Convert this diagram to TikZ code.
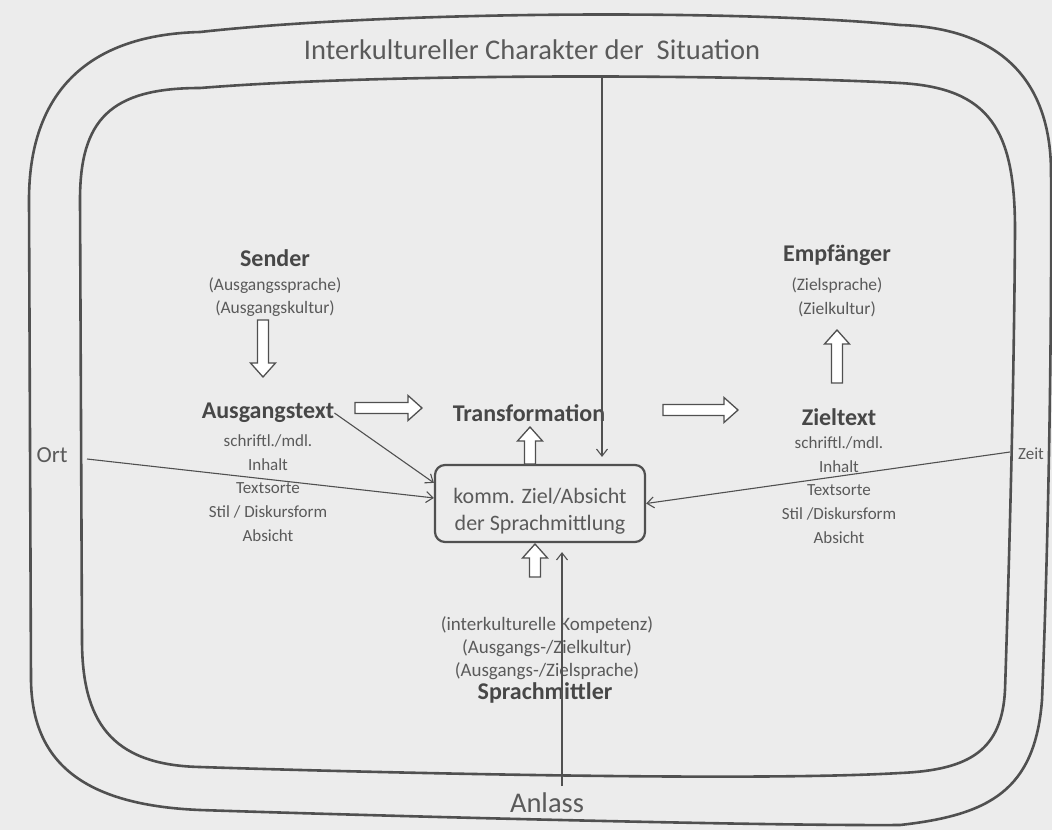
\documentclass[tikz,border=0pt]{standalone}
\usepackage{fontspec}
\setmainfont{Carlito}
\usetikzlibrary{calc,arrows.meta}
\definecolor{bgc}{HTML}{ECECEC}
\definecolor{linec}{HTML}{505050}
\definecolor{headc}{HTML}{474747}
\definecolor{txtc}{HTML}{5A5A5A}
\begin{document}
\begin{tikzpicture}[x=1pt,y=-1pt,
  head/.style={font=\fontsize{24}{28}\selectfont\bfseries, text=headc, inner sep=0pt},
  sub/.style={font=\fontsize{17.5}{23.5}\selectfont, text=txtc, align=center, inner sep=0pt},
  listst/.style={font=\fontsize{17}{23.8}\selectfont, text=txtc, align=center, inner sep=0pt},
  subtwo/.style={font=\fontsize{19}{23}\selectfont, text=txtc, align=center, inner sep=0pt},
  big/.style={font=\fontsize{28.5}{32}\selectfont, text=txtc, inner sep=0pt},
  sidelab/.style={text=txtc, inner sep=0pt},
  boxst/.style={draw=linec, line width=2.2pt, rounded corners=10pt, minimum width=210pt,
    minimum height=77pt, align=center, font=\fontsize{22}{27}\selectfont, text=txtc, inner sep=0pt},
  contour/.style={draw=linec, line width=2.6pt},
  thinarr/.style={draw=linec, line width=1.1pt, -{Straight Barb[length=7pt,width=11pt]}},
  fat/.style={draw=linec, line width=1.3pt, fill=white, to path={
    let \p1=(\tikztostart), \p2=(\tikztotarget), \p3=($(\p2)!14pt!(\p1)$) in
    ($(\p1)!5.5pt!90:(\p2)$) -- ($(\p3)!5.5pt!-90:(\p1)$) -- ($(\p3)!12.5pt!-90:(\p1)$)
    -- (\p2) -- ($(\p3)!12.5pt!90:(\p1)$) -- ($(\p3)!5.5pt!90:(\p1)$)
    -- ($(\p1)!5.5pt!-90:(\p2)$) -- cycle}}
]
\useasboundingbox (0,0) rectangle (1052,830);
\fill[bgc] (0,0) rectangle (1052,830);

% outer contour
\path[contour] (31,680) -- (29,200)
  .. controls (29,100) and (80,35) .. (200,32)
  .. controls (400,10) and (750,10) .. (900,25)
  .. controls (1000,28) and (1050,80) .. (1051,170)
  .. controls (1052,350) and (1048,550) .. (1042,700)
  .. controls (1035,790) and (990,815) .. (900,825)
  .. controls (750,826) and (350,815) .. (200,810)
  .. controls (80,805) and (32,760) .. (31,680) -- cycle;
% inner contour
\path[contour] (82,640) -- (80,200)
  .. controls (80,120) and (110,88) .. (200,88)
  .. controls (400,72) and (750,75) .. (900,83)
  .. controls (990,88) and (1015,130) .. (1015,230)
  .. controls (1014,400) and (1008,600) .. (1005,690)
  .. controls (1002,750) and (970,770) .. (900,773)
  .. controls (750,782) and (350,772) .. (200,767)
  .. controls (110,765) and (82,720) .. (82,640) -- cycle;

% texts
\node[big] (title) at (532,50) {Interkultureller Charakter der~~Situation};
\node[head] (sender) at (275,258) {Sender};
\node[sub] (sendersub) at (275,297) {(Ausgangssprache)\\(Ausgangskultur)};
\node[head] (ausg) at (268,413) {Ausgangstext};
\node[listst] (ausglist) at (268,488) {schriftl./mdl.\\Inhalt\\Textsorte\\Stil / Diskursform\\Absicht};
\node[head] (trans) at (529,413) {Transformation};
\node[boxst] (box) at (540,503.5) {\rule{0pt}{31pt}komm. Ziel/Absicht\\der Sprachmittlung};
\node[head] (empf) at (837,255) {Empfänger};
\node[sub] (empfsub) at (837,297.5) {(Zielsprache)\\(Zielkultur)};
\node[head] (ziel) at (839,417) {Zieltext};
\node[listst] (ziellist) at (839,490) {schriftl./mdl.\\Inhalt\\Textsorte\\Stil /Diskursform\\Absicht};
\node[subtwo] (sprsub) at (547,648) {(interkulturelle Kompetenz)\\(Ausgangs-/Zielkultur)\\(Ausgangs-/Zielsprache)};
\node[head] (spr) at (545,693) {Sprachmittler};
\node[big] (anlass) at (547,803) {Anlass};
\node[sidelab, font=\fontsize{23}{26}\selectfont] (ort) at (52,455) {Ort};
\node[sidelab, font=\fontsize{17}{20}\selectfont] (zeit) at (1031,454) {Zeit};

% fat arrows
\coordinate (f1s) at (263,320); \coordinate (f1t) at (263,377);
\coordinate (f2s) at (355,408); \coordinate (f2t) at (422,408);
\coordinate (f3s) at (530,464); \coordinate (f3t) at (530,427);
\coordinate (f4s) at (663,410); \coordinate (f4t) at (738,410);
\coordinate (f5s) at (837,383); \coordinate (f5t) at (837,330);
\coordinate (f6s) at (535,577); \coordinate (f6t) at (535,544);
\path[fat] (f1s) to (f1t);
\path[fat] (f2s) to (f2t);
\path[fat] (f3s) to (f3t);
\path[fat] (f4s) to (f4t);
\path[fat] (f5s) to (f5t);
\path[fat] (f6s) to (f6t);

% thin arrows
\coordinate (ortp) at (87,459);
\coordinate (zeitp) at (1010,452);
\coordinate (topp) at (602,78);
\coordinate (anlp) at (562,786);
\draw[thinarr] (ausg.east) -- (box.169);
\draw[thinarr] (ortp) -- (box.177);
\draw[thinarr] (zeitp) -- (box.east);
\draw[thinarr, shorten >=7pt] (topp) -- (topp |- box.north);
\draw[thinarr, shorten >=9pt] (anlp) -- (anlp |- box.south);
\end{tikzpicture}
\end{document}
